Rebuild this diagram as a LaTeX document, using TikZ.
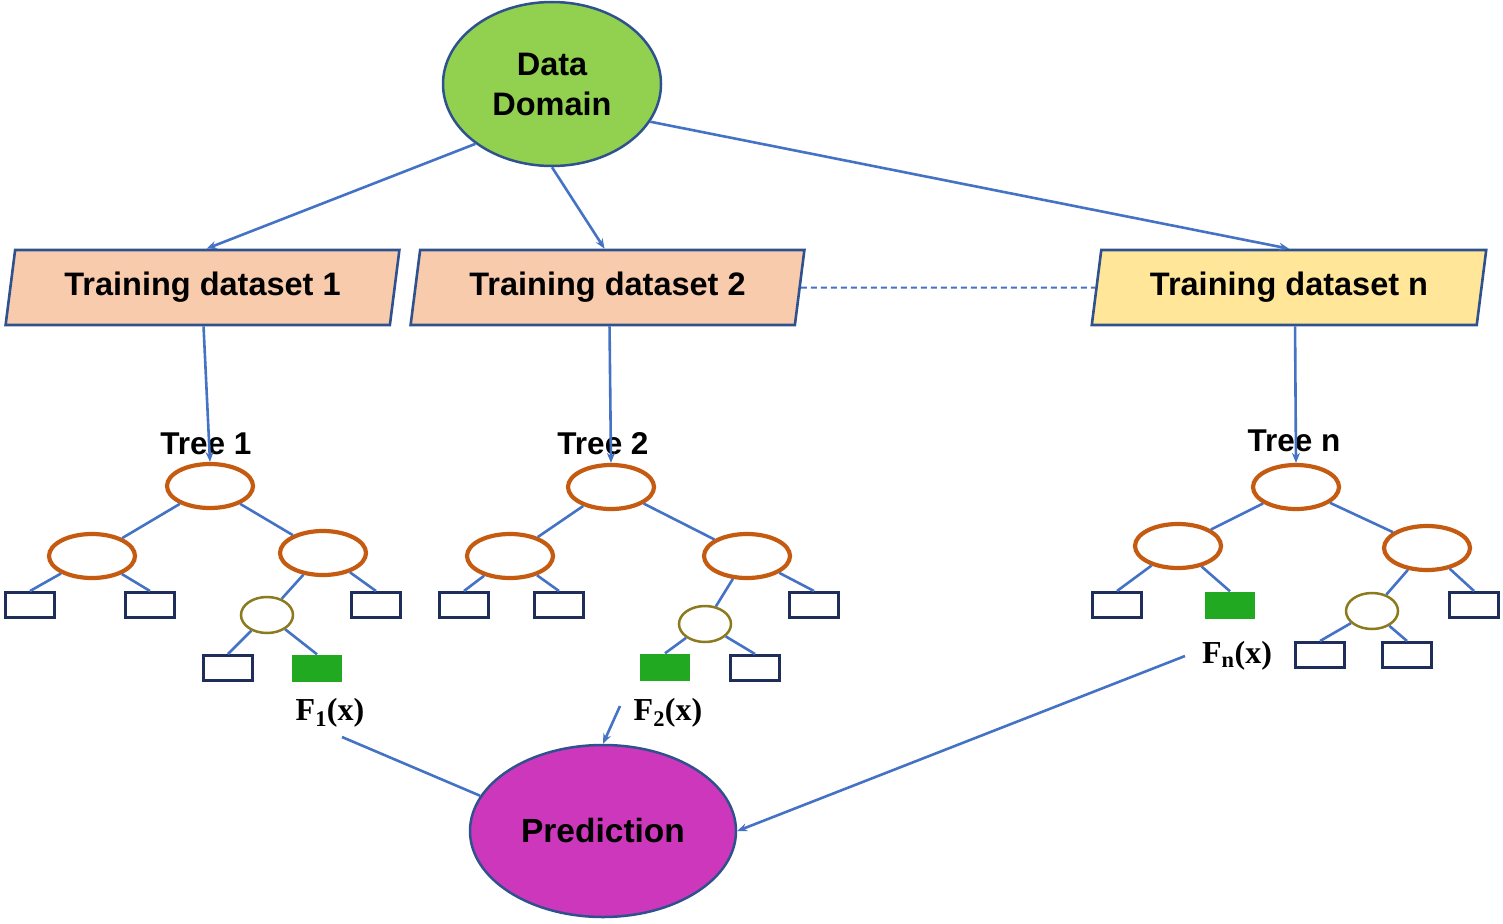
\documentclass[tikz,border=0pt]{standalone}
\usepackage{fontspec}
\setmainfont{Liberation Sans}
\newfontfamily\tnr{Liberation Serif}
\usetikzlibrary{shapes.geometric,arrows.meta}
\definecolor{edgeblue}{HTML}{4472C4}
\definecolor{darkblue}{HTML}{2F528F}
\definecolor{ddgreen}{HTML}{92D050}
\definecolor{predmag}{HTML}{CC37BC}
\definecolor{tdpeach}{HTML}{F8CBAD}
\definecolor{tdyellow}{HTML}{FFE699}
\definecolor{treeorange}{HTML}{C55A11}
\definecolor{olive}{HTML}{8B7B1E}
\definecolor{navy}{HTML}{1F2D5A}
\definecolor{leafgreen}{HTML}{21A921}
\tikzset{
  bigtext/.style={font=\fontsize{32.5}{36}\selectfont\bfseries},
  bigell/.style={ellipse, draw=darkblue, line width=2.5pt, inner sep=0pt, bigtext, align=center},
  tdbox/.style={trapezium, trapezium left angle=77, trapezium right angle=103, trapezium stretches=true,
     minimum width=395pt, minimum height=75pt, inner sep=0pt, draw=darkblue, line width=2.6pt, bigtext},
  inode/.style={ellipse, draw=treeorange, line width=4.2pt, minimum width=86pt, minimum height=44pt, inner sep=0pt},
  snode/.style={ellipse, draw=olive, line width=2.5pt, minimum width=52pt, minimum height=36pt, inner sep=0pt},
  leaf/.style={rectangle, draw=navy, line width=3pt, minimum width=49pt, minimum height=25pt, inner sep=0pt},
  gleaf/.style={rectangle, fill=leafgreen, minimum width=50pt, minimum height=27pt, inner sep=0pt},
  edge/.style={draw=edgeblue, line width=2.6pt},
  arr/.style={edge, -{Stealth[length=10pt,width=8pt]}},
  treelabel/.style={font=\fontsize{31.5}{34}\selectfont\bfseries, inner sep=0pt},
  flabel/.style={font=\tnr\fontsize{32}{34}\selectfont\bfseries, inner sep=0pt},
}
\begin{document}
\begin{tikzpicture}[x=1pt,y=-1pt]
\useasboundingbox (0,0) rectangle (1503,923);
% top and bottom ellipses
\node[bigell, fill=ddgreen, minimum width=218pt, minimum height=164pt] (dd) at (552,84) {Data\\[4pt]Domain};
\node[bigell, fill=predmag, minimum width=266pt, minimum height=172pt, font=\fontsize{33.5}{36}\selectfont\bfseries] (pred) at (603,831) {Prediction};
% training datasets
\node[tdbox, fill=tdpeach] (td1) at (202.5,287.5) {Training dataset 1};
\node[tdbox, fill=tdpeach] (td2) at (607.5,287.5) {Training dataset 2};
\node[tdbox, fill=tdyellow] (tdn) at (1289,287.5) {Training dataset n};
\draw[edge, line width=2pt, dash pattern=on 6pt off 4pt] (td2.east) -- (tdn.west);
% arrows from data domain
\draw[arr] (dd.218.8) -- ([xshift=4pt]td1.north);
\draw[arr] (dd.270) -- ([xshift=-3pt]td2.north);
\draw[arr] (dd.-21.7) -- (tdn.north);

% ---------- Tree 1
\node[treelabel] (tl1) at (206,444) {Tree 1};
\node[inode] (a1) at (210,486) {};
\node[inode] (a2) at (92,556) {};
\node[inode] (a3) at (323,553) {};
\node[snode] (a4) at (267,615) {};
\node[leaf] (a5) at (30,605) {};
\node[leaf] (a6) at (150,605) {};
\node[leaf] (a7) at (376,605) {};
\node[leaf] (a8) at (228,668) {};
\node[gleaf] (a9) at (317,668) {};
\node[flabel] (f1) at (330,713) {F\textsubscript{1}(x)};
\draw[edge] (a1) -- (a2) (a1) -- (a3) (a2) -- (a5.north) (a2) -- (a6.north)
  (a3) -- (a4) (a3) -- (a7.north) (a4) -- (a8.north) (a4) -- (a9.north);
\draw[arr] ([xshift=1pt]td1.south) -- (a1.north);

% ---------- Tree 2
\node[treelabel] (tl2) at (603,444) {Tree 2};
\node[inode] (b1) at (611,487) {};
\node[inode] (b2) at (510,556) {};
\node[inode] (b3) at (747,556) {};
\node[snode] (b4) at (705,624) {};
\node[leaf] (b5) at (464,605) {};
\node[leaf] (b6) at (559,605) {};
\node[leaf] (b7) at (814,605) {};
\node[gleaf] (b8) at (665,667) {};
\node[leaf] (b9) at (755,668) {};
\node[flabel] (f2) at (668,713) {F\textsubscript{2}(x)};
\draw[edge] (b1) -- (b2) (b1) -- (b3) (b2) -- (b5.north) (b2) -- (b6.north)
  (b3) -- (b4) (b3) -- (b7.north) (b4) -- (b8.north) (b4) -- (b9.north);
\draw[arr] ([xshift=2pt]td2.south) -- (b1.north);

% ---------- Tree n
\node[treelabel] (tln) at (1294,441) {Tree n};
\node[inode] (c1) at (1296,487) {};
\node[inode] (c2) at (1178,546) {};
\node[inode] (c3) at (1427,548) {};
\node[snode] (c4) at (1372,611) {};
\node[leaf] (c5) at (1117,605) {};
\node[gleaf] (c6) at (1230,605) {};
\node[leaf] (c7) at (1474,605) {};
\node[leaf] (c8) at (1320,655) {};
\node[leaf] (c9) at (1407,655) {};
\node[flabel] (fn) at (1237,656) {F\textsubscript{n}(x)};
\draw[edge] (c1) -- (c2) (c1) -- (c3) (c2) -- (c5.north) (c2) -- (c6.north)
  (c3) -- (c4) (c3) -- (c7.north) (c4) -- (c8.north) (c4) -- (c9.north);
\draw[arr] ([xshift=6pt]tdn.south) -- (c1.north);

% ---------- to prediction
\coordinate (p1) at (342,737);
\coordinate (p2) at (620,706);
\coordinate (p3) at (1185,656);
\draw[edge] (p1) -- (pred.164.5);
\draw[arr] (p2) -- (pred.north);
\draw[arr] (p3) -- (pred.east);
\end{tikzpicture}
\end{document}
